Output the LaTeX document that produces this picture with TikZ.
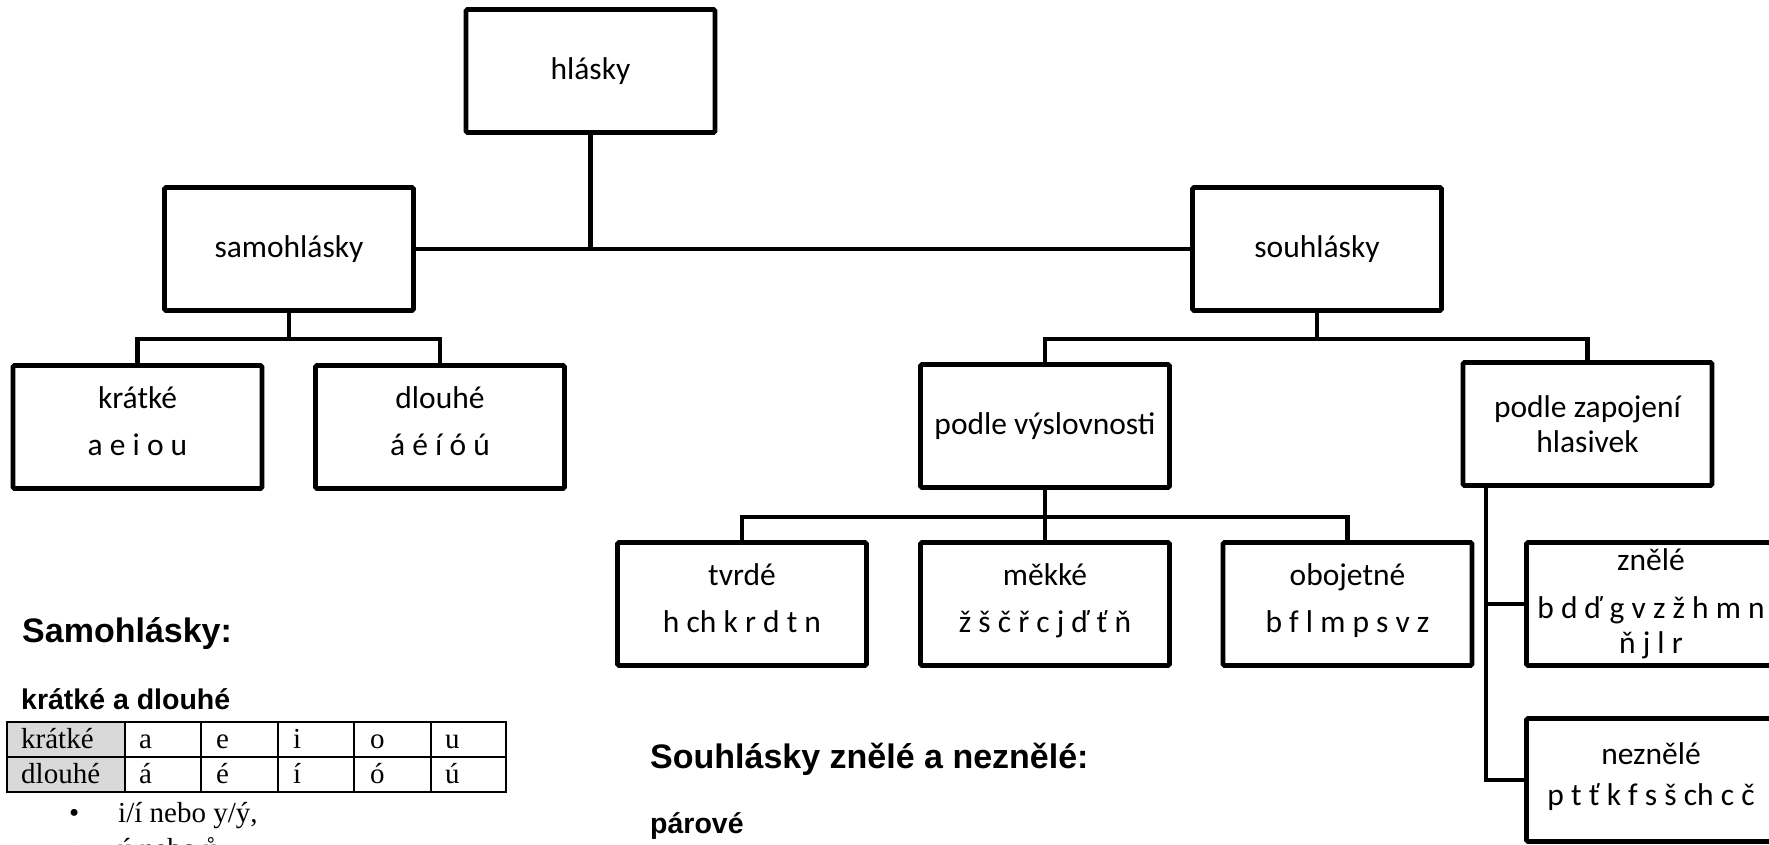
\documentclass[tikz,border=0pt]{standalone}
\usepackage{fontspec}
\setmainfont{Carlito}
\newfontfamily\headfont{Liberation Sans}
\newfontfamily\tabfont{Liberation Serif}
\usetikzlibrary{calc}
\definecolor{cellgray}{HTML}{D9D9D9}
\newcommand\lowstrut{\rule[-12pt]{0pt}{12pt}}
\begin{document}
\begin{tikzpicture}[x=1pt,y=-1pt,
  box/.style={draw, line width=4.8pt, rounded corners=1.5pt, minimum width=249pt, minimum height=123pt, inner sep=0pt, align=center, font=\fontsize{31.5}{35}\selectfont},
  conn/.style={line width=4.2pt},
  heading/.style={anchor=base west, inner sep=0pt, font=\headfont\bfseries\fontsize{34}{40}\selectfont},
  subheading/.style={anchor=base west, inner sep=0pt, font=\headfont\bfseries\fontsize{28.5}{34}\selectfont},
  cell/.style={anchor=base west, inner sep=0pt, font=\tabfont\fontsize{29}{34}\selectfont},
  tline/.style={line width=2.4pt}
]
\useasboundingbox (0,0) rectangle (1769,844);

% boxes
\node[box] (hl) at (590.5,71) {hlásky};
\node[box] (sa) at (289,249) {samohlásky};
\node[box] (so) at (1317,249) {souhlásky};
\node[box] (kr) at (137.5,427) {krátké\\[12pt]a e i o u\lowstrut};
\node[box] (dl) at (440,427) {dlouhé\\[12pt]á é í ó ú\lowstrut};
\node[box] (pv) at (1045,426) {podle výslovnosti};
\node[box] (pz) at (1587.5,424) {podle zapojení\\hlasivek};
\node[box] (tv) at (742,604) {tvrdé\\[12pt]h ch k r d t n\lowstrut};
\node[box] (mk) at (1045,604) {měkké\\[12pt]ž š č ř c j ď ť ň\lowstrut};
\node[box] (ob) at (1347.5,604) {obojetné\\[12pt]b f l m p s v z\lowstrut};
\node[box] (zn) at (1651,604) {znělé\\[13pt]b d ď g v z ž h m n\\ň j l r};
\node[box] (nz) at (1651,780) {neznělé\\[6pt]p t ť k f s š ch c č\lowstrut};

% connectors
\draw[conn] (hl.south) -- (hl.south |- sa.east);
\draw[conn] (sa.east) -- (so.west);
\draw[conn] (sa.south) -- ++(0,26) coordinate (sab);
\draw[conn] (kr.north) -- (kr.north |- sab) -- (dl.north |- sab) -- (dl.north);
\draw[conn] (so.south) -- ++(0,26) coordinate (sob);
\draw[conn] (pv.north) -- (pv.north |- sob) -- (pz.north |- sob) -- (pz.north);
\draw[conn] (pv.south) -- (mk.north);
\coordinate (pvb) at ($(pv.south)+(0,27)$);
\draw[conn] (tv.north) -- (tv.north |- pvb) -- (ob.north |- pvb) -- (ob.north);
\coordinate (pzf) at ($(pz.south west)+(25.5,0)$);
\draw[conn] (pzf) -- (pzf |- nz.west) -- (nz.west);
\draw[conn] (pzf |- zn.west) -- (zn.west);

% lower left texts
\node[heading] (h1) at (22,642) {Samohlásky:};
\node[subheading] (h2) at (21,709) {krátké a dlouhé};

\fill[cellgray] (7,722) rectangle (125,792);
\draw[tline] (7,722) rectangle (506,792);
\draw[tline] (7,757) -- (506,757);
\foreach \cx in {125,201,278,354,431} \draw[tline] (\cx,722) -- (\cx,792);
\node[cell] (c11) at (21,748) {krátké};
\node[cell] (c12) at (139,748) {a};
\node[cell] (c13) at (216,748) {e};
\node[cell] (c14) at (293,748) {i};
\node[cell] (c15) at (370,748) {o};
\node[cell] (c16) at (445,748) {u};
\node[cell] (c21) at (21,783) {dlouhé};
\node[cell] (c22) at (139,783) {á};
\node[cell] (c23) at (216,783) {é};
\node[cell] (c24) at (293,783) {í};
\node[cell] (c25) at (370,783) {ó};
\node[cell] (c26) at (445,783) {ú};

\node[cell] (bl1) at (69,822) {•};
\node[cell] (bt1) at (118,822) {i/í nebo y/ý,};
\node[cell] (bl2) at (69,858) {•};
\node[cell] (bt2) at (118,858) {ú nebo ů};

% lower middle texts
\node[heading] (h3) at (650,768) {Souhlásky znělé a neznělé:};
\node[subheading] (h4) at (650,833) {párové};
\end{tikzpicture}
\end{document}
